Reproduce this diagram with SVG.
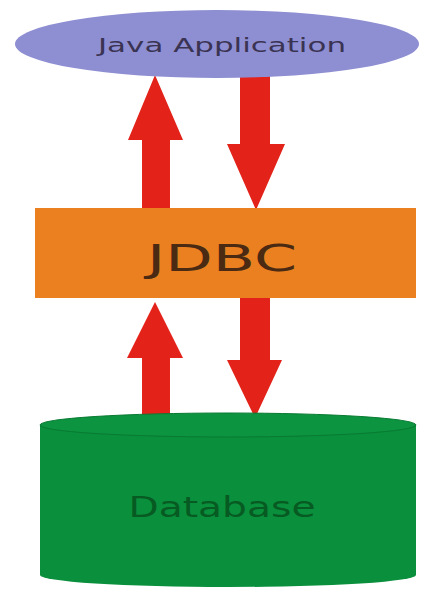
<svg xmlns="http://www.w3.org/2000/svg" width="428" height="590" viewBox="0 0 428 590">
<style>
.arrow{fill:#e32219}
.lbl{font-family:"DejaVu Sans","Liberation Sans",sans-serif;text-anchor:middle}
</style>
<rect width="428" height="590" fill="#ffffff"/>
<g id="connectors">
<polygon class="arrow" points="142,208 142,140 128,140 155,75 183,140 170,140 170,208"/>
<polygon class="arrow" points="240,75 270,75 270,144 285,144 256,210 227,144 240,144"/>
<polygon class="arrow" points="142,416 142,358 127,358 155,302 183,358 170,358 170,416"/>
<polygon class="arrow" points="240,298 270,298 270,360 282,360 255,418 227,360 240,360"/>
</g>
<g id="java-application">
<ellipse cx="217" cy="44" rx="202" ry="34" fill="#8e8ed2"/>
<text class="lbl" x="222" y="52" font-size="20" fill="#3a3352" textLength="248" lengthAdjust="spacingAndGlyphs">Java Application</text>
</g>
<g id="jdbc">
<rect x="35" y="208" width="381" height="90" fill="#ea8020"/>
<text class="lbl" x="222" y="271" font-size="37" fill="#4a2a12" textLength="150" lengthAdjust="spacingAndGlyphs">JDBC</text>
</g>
<g id="database">
<path d="M40,425 L40,575 A188,12 0 0 0 416,575 L416,425 Z" fill="#0a8f3c"/>
<ellipse cx="228" cy="425" rx="188" ry="12" fill="#0c9440" stroke="#087a32" stroke-width="1"/>
<text class="lbl" x="222" y="517" font-size="28" fill="#075a22" textLength="187" lengthAdjust="spacingAndGlyphs">Database</text>
</g>
</svg>
